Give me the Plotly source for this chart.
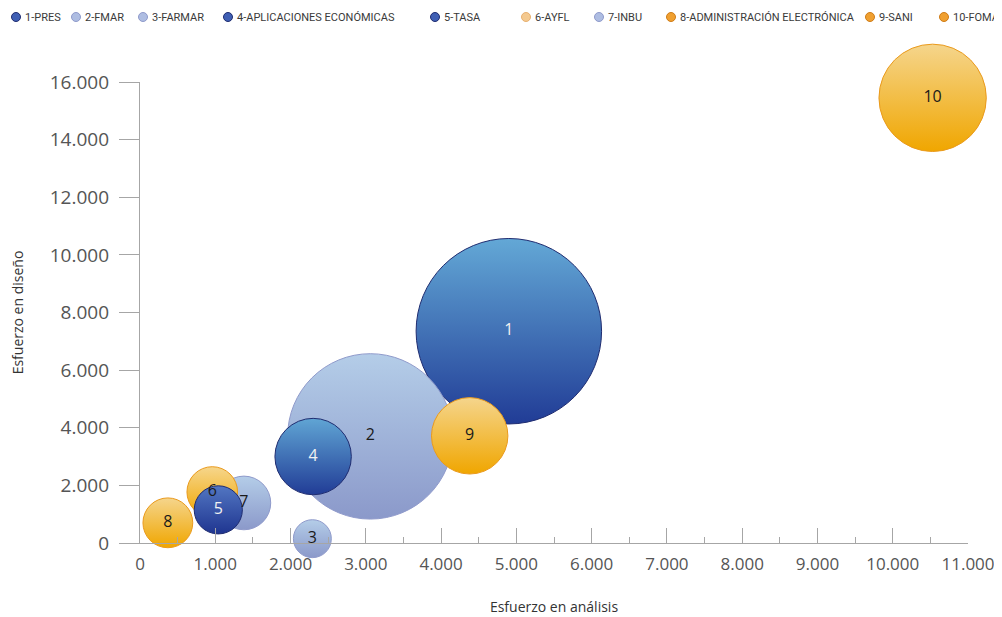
import numpy as np
import plotly.graph_objects as go

# ---- data ----
etiquetas = ["1", "2", "3", "4", "5", "6", "7", "8", "9", "10"]
proyectos = ["1-PRES", "2-FMAR", "3-FARMAR", "4-APLICACIONES ECONÓMICAS", "5-TASA",
             "6-AYFL", "7-INBU", "8-ADMINISTRACIÓN ELECTRÓNICA", "9-SANI", "10-FOMA"]
esfuerzo_analisis = [4900, 3060, 2290, 2300, 1040, 960, 1380, 370, 4380, 10530]
esfuerzo_diseno = [7350, 3700, 150, 3000, 1150, 1770, 1390, 700, 3720, 15450]
tamano = [4300, 3420, 180, 730, 290, 320, 360, 310, 730, 1440]
x_ticks = list(range(0, 11001, 1000))
y_ticks = list(range(0, 16001, 2000))

# ---- styles ----
top_col = ["#63a8d6", "#b4cde8", "#b4cde8", "#60a5d4", "#5276c2",
           "#f6d68c", "#b4cde8", "#f5d58c", "#f5d58c", "#f5d58c"]
bot_col = ["#213c96", "#8b99ca", "#8b99ca", "#213c96", "#1f3590",
           "#f0a600", "#8b99ca", "#f0a600", "#f0a600", "#f0a600"]
line_col = ["#1f2c70", "#8f9acb", "#8f9acb", "#1f2c70", "#1f2c70",
            "#ea9a1c", "#8f9acb", "#ea9a1c", "#ea9a1c", "#ea9a1c"]
txt_col = ["#f2f2f2", "#1a1a1a", "#1a1a1a", "#f2f2f2", "#f2f2f2",
           "#1a1a1a", "#1a1a1a", "#1a1a1a", "#1a1a1a", "#1a1a1a"]
leg_fill = ["#3f5fb4", "#aebde2", "#aebde2", "#3f5fb4", "#3f5fb4",
            "#f4c98f", "#aebde2", "#f0a030", "#f0a030", "#f0a030"]
leg_line = ["#1f2c70", "#8f9acb", "#8f9acb", "#1f2c70", "#1f2c70",
            "#e8b070", "#8f9acb", "#cf7c18", "#cf7c18", "#cf7c18"]

order = np.argsort(-np.array(tamano), kind="stable")


def pick(lst):
    return [lst[i] for i in order]


fig = go.Figure()
fig.add_trace(go.Scatter(
    x=pick(esfuerzo_analisis), y=pick(esfuerzo_diseno),
    mode="markers+text", text=pick(etiquetas), textposition="middle center",
    hovertext=pick(proyectos),
    textfont=dict(family="Open Sans", size=16, color=pick(txt_col)),
    marker=dict(size=pick(tamano), sizemode="area", sizeref=0.25,
                color=pick(top_col), opacity=1,
                gradient=dict(type="vertical", color=pick(bot_col)),
                line=dict(width=1, color=pick(line_col))),
    cliponaxis=False, showlegend=False,
))

# the page body adds an 8px offset; the figure fills the rest of the window
OFF = 8
W, H = 1002 - OFF, 617 - OFF
ml, mr, mt, mb = 140 - OFF, 34, 82 - OFF, 74
pw, ph = W - ml - mr, H - mt - mb


def px2x(px):
    return (px - OFF - ml) / pw


def px2y(py):
    return 1 + (mt - (py - OFF)) / ph


# custom single-row legend
circ_px = [16, 76, 143, 228, 435, 526, 599, 671, 870, 944]
shapes, annotations = [], []
for i, name in enumerate(proyectos):
    cx = px2x(circ_px[i])
    cy = px2y(17)
    shapes.append(dict(type="circle", xref="paper", yref="paper",
                       xsizemode="pixel", ysizemode="pixel",
                       xanchor=cx, yanchor=cy, x0=-4.5, x1=4.5, y0=-4.5, y1=4.5,
                       fillcolor=leg_fill[i], line=dict(color=leg_line[i], width=1)))
    annotations.append(dict(text=name, xref="paper", yref="paper",
                            x=px2x(circ_px[i] + 7), y=cy, xanchor="left", yanchor="middle",
                            showarrow=False,
                            font=dict(family="Roboto", size=11, color="#3a3a3a")))

axis_col = "#a6a6a6"
fig.update_layout(
    width=W, height=H,
    margin=dict(l=ml, r=mr, t=mt, b=mb, autoexpand=False),
    paper_bgcolor="white", plot_bgcolor="white",
    separators=",.",
    shapes=shapes, annotations=annotations,
    xaxis=dict(range=[0, 11000], tickvals=x_ticks, tickformat=",d",
               automargin=False,
               showgrid=False, zeroline=False,
               showline=True, linecolor=axis_col, linewidth=1.3,
               ticks="inside", ticklen=15, tickcolor=axis_col, tickwidth=1.3,
               minor=dict(ticks="inside", ticklen=6, dtick=500, tickcolor=axis_col,
                          tickwidth=1.3, showgrid=False),
               tickfont=dict(family="Open Sans", size=17, color="#555555"),
               ticklabelstandoff=5,
               title=dict(text="Esfuerzo en análisis", standoff=28,
                          font=dict(family="Open Sans", size=14, color="#333333"))),
    yaxis=dict(range=[0, 16000], tickvals=y_ticks, tickformat=",d",
               automargin=False,
               showgrid=False, zeroline=False,
               showline=True, linecolor=axis_col, linewidth=1.3,
               ticks="outside", ticklen=20, tickcolor=axis_col, tickwidth=1.3,
               tickfont=dict(family="Open Sans", size=19, color="#555555"),
               ticklabelstandoff=6,
               title=dict(text="Esfuerzo en diseño", standoff=23,
                          font=dict(family="Open Sans", size=14, color="#333333"))),
)

fig.write_html("out.html")
